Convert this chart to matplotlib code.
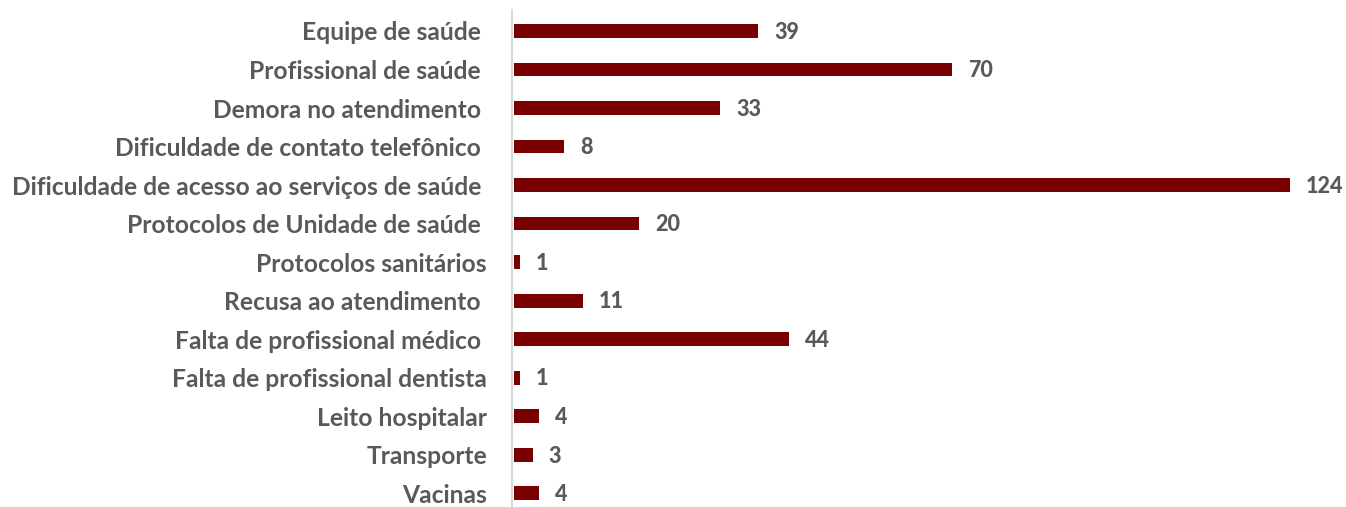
import matplotlib
matplotlib.use("Agg")
import matplotlib.pyplot as plt

categories = [
    "Equipe de saúde ",
    "Profissional de saúde ",
    "Demora no atendimento ",
    "Dificuldade de contato telefônico ",
    "Dificuldade de acesso ao serviços de saúde ",
    "Protocolos de Unidade de saúde ",
    "Protocolos sanitários",
    "Recusa ao atendimento ",
    "Falta de profissional médico ",
    "Falta de profissional dentista",
    "Leito hospitalar",
    "Transporte",
    "Vacinas",
]
values = [39, 70, 33, 8, 124, 20, 1, 11, 44, 1, 4, 3, 4]

W, H, DPI = 1346, 507, 100
fig = plt.figure(figsize=(W / DPI, H / DPI), dpi=DPI)
ax = fig.add_axes([512 / W, 0, (1340 - 512) / W, (507 - 10) / H])

font = ["Lato", "DejaVu Sans"]
gray = "#595959"
ypos = list(range(len(categories)))
ax.barh(ypos, values, height=0.36, color="#770000", left=0)
ax.set_xlim(-0.3, 132)
ax.set_ylim(12.36, -0.545)
for y, v in zip(ypos, values):
    ax.annotate(str(v), (v, y), xytext=(11.5, -1), textcoords="offset points",
                va="center", ha="left", fontsize=15.5, fontweight=900,
                color=gray, family=font)
ax.set_yticks(ypos)
ax.set_yticklabels(categories, fontsize=17.7, fontweight="bold", color=gray, family=font)
ax.tick_params(axis="y", length=0, pad=18)
ax.set_xticks([])
for s in ["top", "right", "bottom"]:
    ax.spines[s].set_visible(False)
ax.spines["left"].set_color("#d9d9d9")
ax.spines["left"].set_linewidth(1.5)
fig.savefig("out.png", dpi=DPI)
